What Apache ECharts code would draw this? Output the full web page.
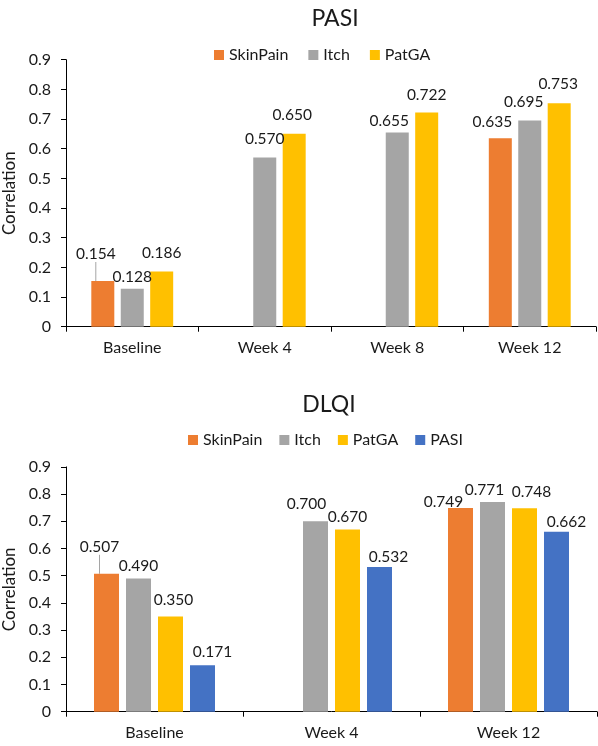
<!DOCTYPE html>
<html>
<head>
<meta charset="utf-8">
<script src="https://cdn.jsdelivr.net/npm/echarts@6/dist/echarts.min.js"></script>
<style>
html,body{margin:0;padding:0;background:#fff;}
#c{width:598px;height:746px;}
</style>
</head>
<body>
<div id="c"></div>
<script>
// ---- data ----
const pasiCategories = ['Baseline', 'Week 4', 'Week 8', 'Week 12'];
const pasiSkinPain = [0.154, null, null, 0.635];
const pasiItch = [0.128, 0.570, 0.655, 0.695];
const pasiPatGA = [0.186, 0.650, 0.722, 0.753];

const dlqiCategories = ['Baseline', 'Week 4', 'Week 12'];
const dlqiSkinPain = [0.507, null, 0.749];
const dlqiItch = [0.490, 0.700, 0.771];
const dlqiPatGA = [0.350, 0.670, 0.748];
const dlqiPasi = [0.171, 0.532, 0.662];

const yTicks = [0, 0.1, 0.2, 0.3, 0.4, 0.5, 0.6, 0.7, 0.8, 0.9];

// ---- styles ----
const FONT = 'Lato';
const TXT = '#1a1a1a';
const colors = {SkinPain:'#ED7D31', Itch:'#A5A5A5', PatGA:'#FFC000', PASI:'#4472C4'};

// label nudges [dx, dy] (layout only)
const nudgeTop = {
  SkinPain: [[-7,-8],null,null,[-8,3]],
  Itch: [[0,7],[0,0],[-8,8],[-6,0]],
  PatGA: [[0,0],[-2,0],[0,1],[-1,0]]
};
const nudgeBot = {
  SkinPain: [[-7,-15],null,[-17,6]],
  Itch: [[0,0],[-9,-5],[-8,0]],
  PatGA: [[3,-5],[0,0],[7,-4]],
  PASI: [[10,-1],[9,2],[10,2]]
};

function mkSeries(name, values, gi, barW, dist, nudge, leaderIdx){
  return {
    name: name, type: 'bar', xAxisIndex: gi, yAxisIndex: gi,
    barWidth: barW, barGap: '28%',
    itemStyle: {color: colors[name]},
    data: values.map((v,i)=> (i===leaderIdx ? {value:v, labelLine:{show:true}} : v)),
    label: {show:true, position:'top', distance: dist,
      fontFamily: FONT, fontSize: 15.5, color: TXT,
      formatter: p => (p.value==null ? '' : Number(p.value).toFixed(3))},
    labelLine: {show:false, lineStyle:{color:'#A5A5A5', width:1}},
    labelLayout: p => { const o = nudge[name][p.dataIndex]; return o ? {dx:o[0], dy:o[1]} : {}; },
    emphasis: {disabled:true},
    animation: false
  };
}

function xAx(gi, cats){
  return {type:'category', gridIndex: gi, data: cats, boundaryGap: true,
    axisLine:{lineStyle:{color:'#000', width:1}},
    axisTick:{show:true, alignWithLabel:false, length:5, lineStyle:{color:'#000'}},
    axisLabel:{fontFamily:FONT, fontSize:16, color:TXT, margin:13},
    splitLine:{show:false}};
}
function yAx(gi){
  return {type:'value', gridIndex: gi, min: yTicks[0], max: yTicks[yTicks.length-1], interval: 0.1,
    name:'Correlation', nameLocation:'middle', nameGap: 44,
    nameTextStyle:{fontFamily:FONT, fontSize:17, color:TXT},
    axisLine:{show:true, lineStyle:{color:'#000', width:1}},
    axisTick:{show:true, length:5, lineStyle:{color:'#000'}},
    axisLabel:{fontFamily:FONT, fontSize:16, color:TXT, margin:15,
      formatter: v => (Math.abs(v)<1e-9 ? '0' : v.toFixed(1))},
    splitLine:{show:false}};
}

const chart = echarts.init(document.getElementById('c'), null, {renderer:'canvas'});
chart.setOption({
  animation: false,
  title: [
    {text:'PASI', left: 330, top: 2, textAlign:'center',
      textStyle:{fontFamily:FONT, fontSize:23, fontWeight:'normal', color:TXT}},
    {text:'DLQI', left: 324, top: 388, textAlign:'center',
      textStyle:{fontFamily:FONT, fontSize:23, fontWeight:'normal', color:TXT}}
  ],
  legend: [
    {data:['SkinPain','Itch','PatGA'], left: 214, top: 47, padding:0, itemWidth:10, itemHeight:10, itemGap:20,
      icon:'rect', textStyle:{fontFamily:FONT, fontSize:16, color:TXT}, selectedMode:false},
    {data:['SkinPain','Itch','PatGA','PASI'], left: 188, top: 432, padding:0, itemWidth:10, itemHeight:10, itemGap:17,
      icon:'rect', textStyle:{fontFamily:FONT, fontSize:16, color:TXT}, selectedMode:false}
  ],
  grid: [
    {left:66, right:2, top:59.7, height:267, containLabel:false, outerBoundsMode:'none'},
    {left:66, right:1, top:466.9, height:244.8, containLabel:false, outerBoundsMode:'none'}
  ],
  xAxis: [xAx(0, pasiCategories), xAx(1, dlqiCategories)],
  yAxis: [yAx(0), yAx(1)],
  series: [
    mkSeries('SkinPain', pasiSkinPain, 0, 23, 11, nudgeTop, 0),
    mkSeries('Itch', pasiItch, 0, 23, 11, nudgeTop, -1),
    mkSeries('PatGA', pasiPatGA, 0, 23, 11, nudgeTop, -1),
    mkSeries('SkinPain', dlqiSkinPain, 1, 25, 4, nudgeBot, 0),
    mkSeries('Itch', dlqiItch, 1, 25, 4, nudgeBot, -1),
    mkSeries('PatGA', dlqiPatGA, 1, 25, 4, nudgeBot, -1),
    mkSeries('PASI', dlqiPasi, 1, 25, 4, nudgeBot, -1)
  ]
});
</script>
</body>
</html>
